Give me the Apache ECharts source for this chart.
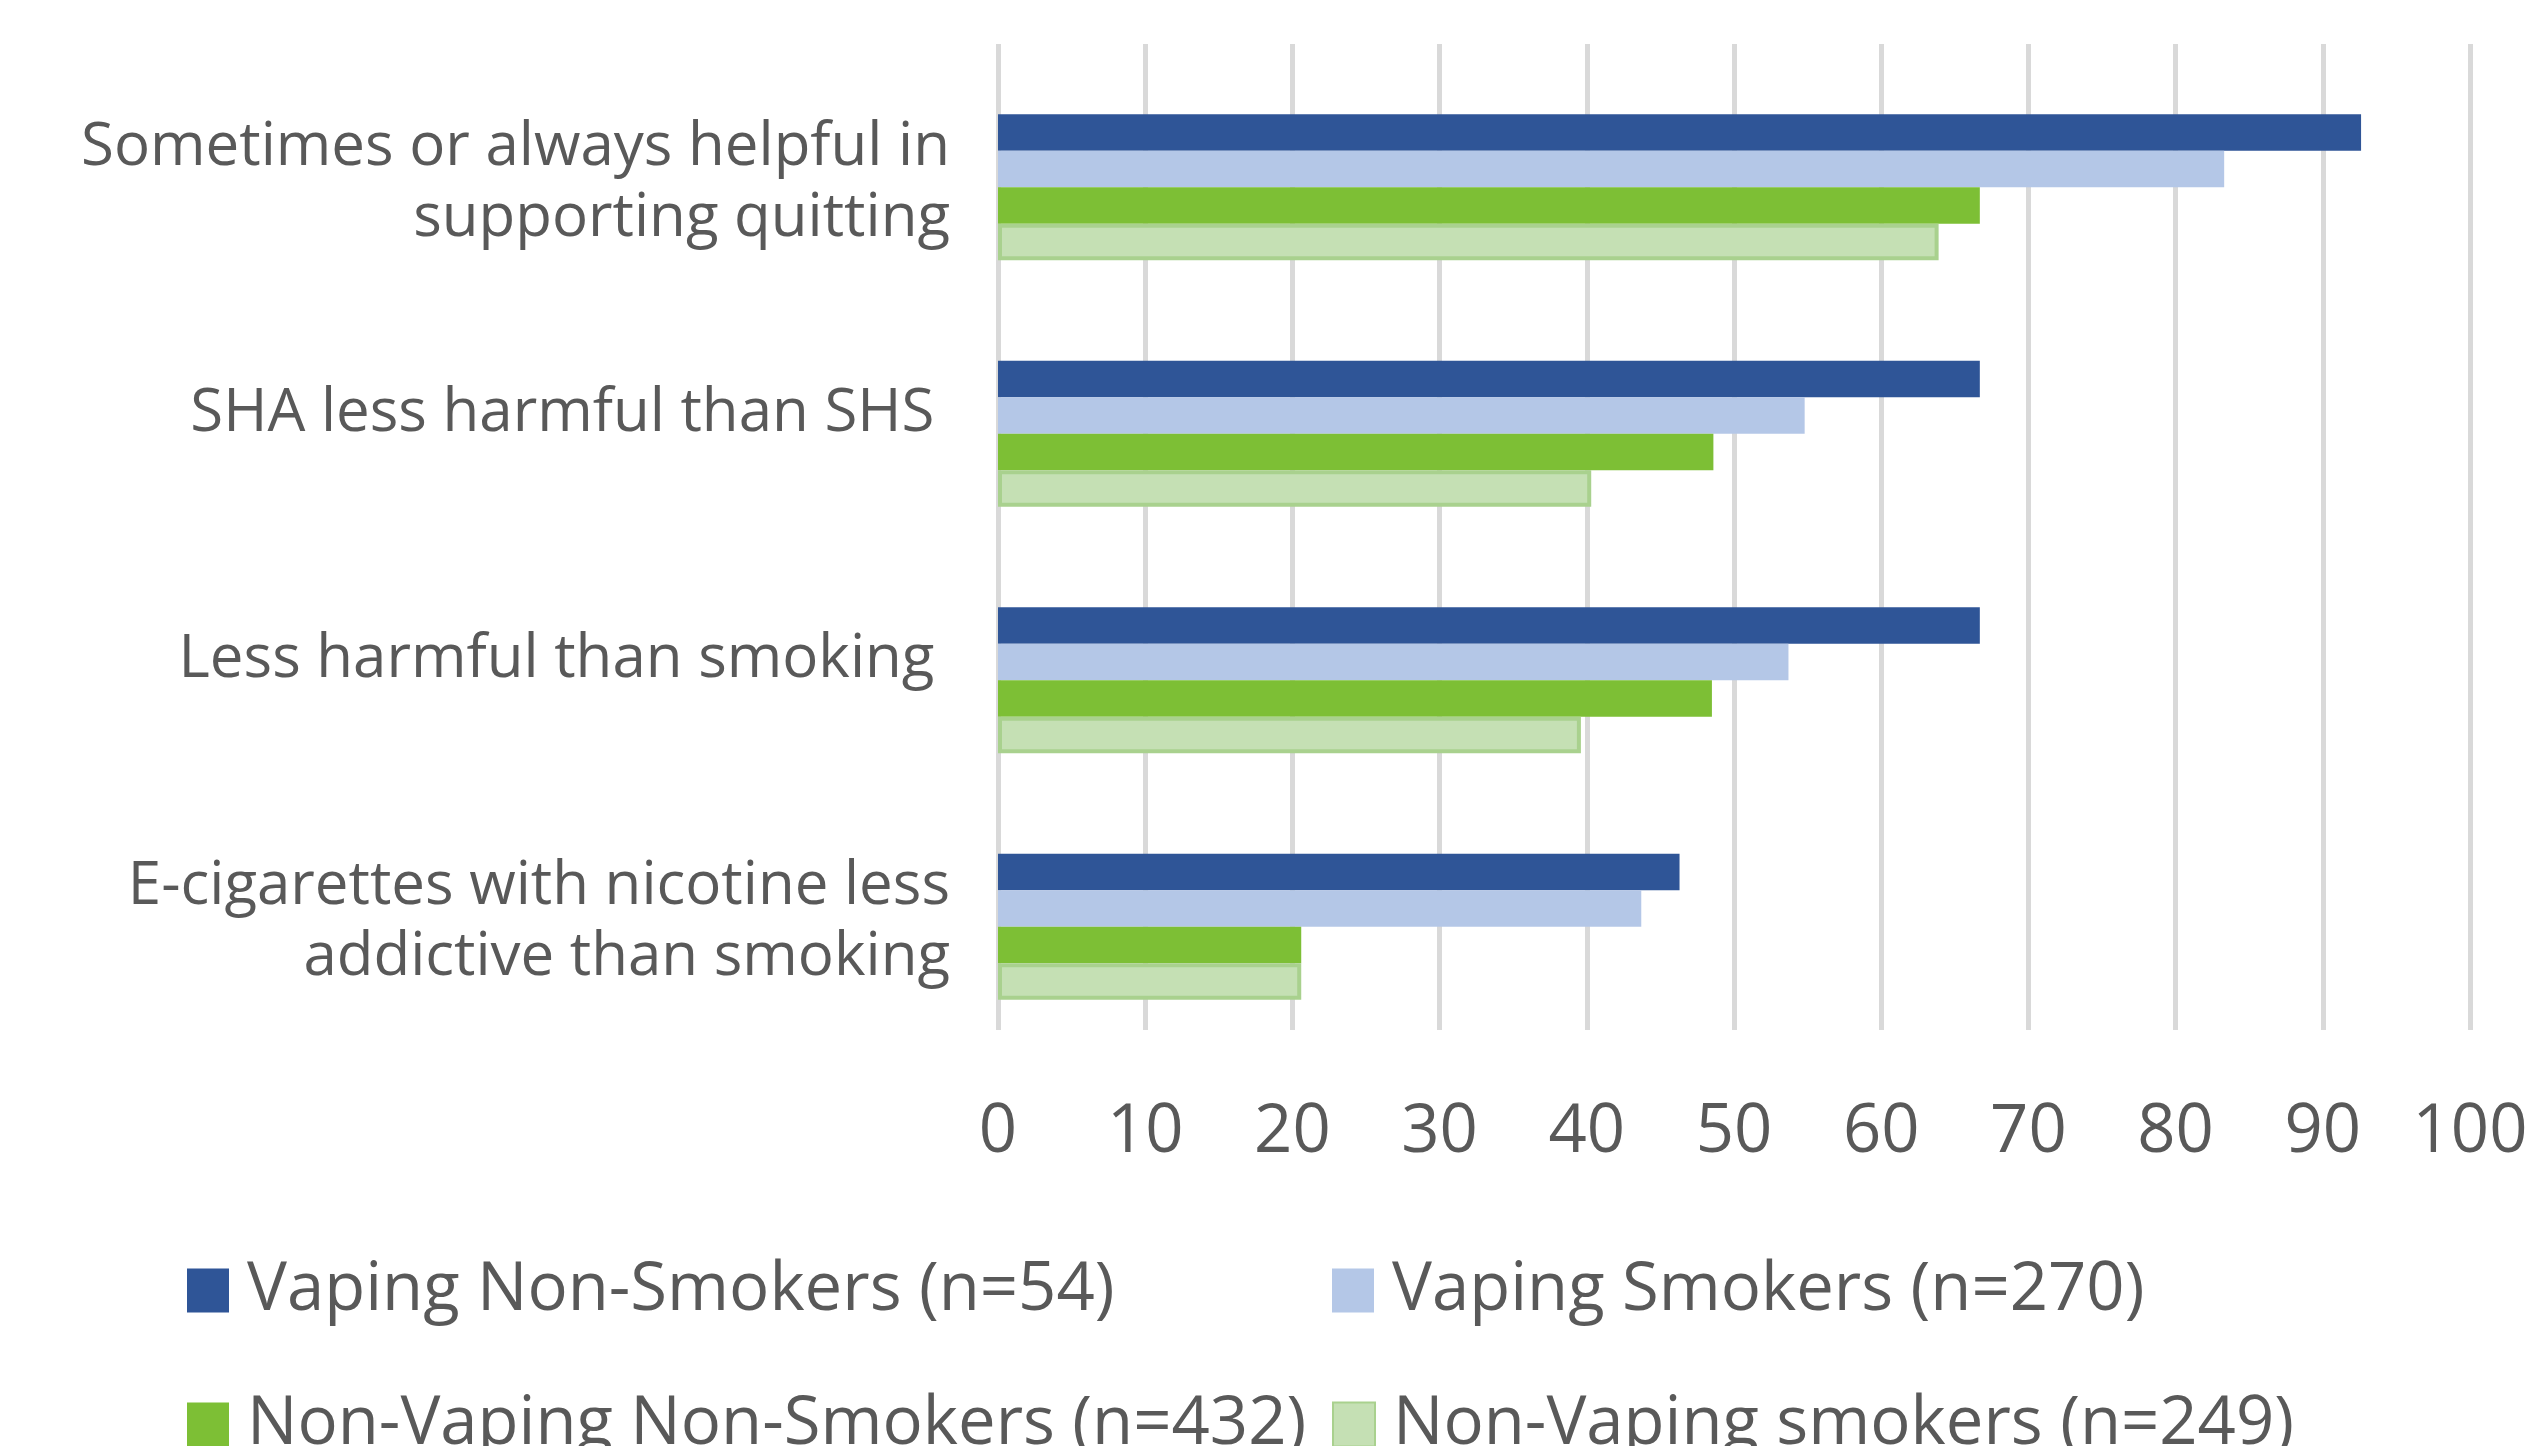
<!DOCTYPE html>
<html>
<head>
    <meta charset="utf-8">
    <title>E-cigarette perceptions</title>
    <script src="https://cdn.jsdelivr.net/npm/echarts@6/dist/echarts.min.js"></script>
    <style>
        html, body { margin: 0; padding: 0; background: #fff; }
    </style>
</head>
<body>
<div id="main" style="width: 2536px;height:1446px;"></div>

<script type="text/javascript">
    // categories, top to bottom
    var categories = [
        'Sometimes or always helpful in\nsupporting quitting',
        'SHA less harmful than SHS ',
        'Less harmful than smoking ',
        'E-cigarettes with nicotine less\naddictive than smoking'
    ];

    var seriesNames = [
        'Vaping Non-Smokers (n=54)',
        'Vaping Smokers (n=270)',
        'Non-Vaping Non-Smokers (n=432)',
        'Non-Vaping smokers (n=249)'
    ];

    // percentages
    var vapingNonSmokers = [92.6, 66.7, 66.7, 46.3];
    var vapingSmokers = [83.3, 54.8, 53.7, 43.7];
    var nonVapingNonSmokers = [66.7, 48.6, 48.5, 20.6];
    var nonVapingSmokers = [63.9, 40.3, 39.6, 20.6];

    var textColor = '#595959';
    var font = '"Open Sans", "Noto Sans", sans-serif';

    var myChart = echarts.init(document.getElementById('main'));

    // one legend per entry so the two columns line up like the original
    function legendItem(name, left, top) {
        return {
            data: [name],
            left: left,
            top: top,
            padding: 0,
            icon: 'rect',
            itemWidth: 42,
            itemHeight: 44,
            textStyle: {
                color: textColor,
                fontFamily: font,
                fontSize: 67,
                lineHeight: 44,
                padding: [0, 0, 0, 13]
            }
        };
    }

    var labelText = { color: textColor, fontFamily: font, fontSize: 60, lineHeight: 71 };

    var barStyle = {
        type: 'bar',
        xAxisIndex: 1,
        yAxisIndex: 1,
        barWidth: 36.5,
        barGap: '0%'
    };

    option = {
        backgroundColor: '#ffffff',
        animation: false,
        legend: [
            legendItem(seriesNames[0], 187, 1257),
            legendItem(seriesNames[1], 1332, 1257),
            legendItem(seriesNames[2], 187, 1391),
            legendItem(seriesNames[3], 1332, 1391)
        ],
        grid: [
            // plot area: gridlines and labels
            { left: 998, top: 44, width: 1472, height: 986 },
            // bars sit a little lower in each band
            { left: 998, top: 64, width: 1472, height: 986 }
        ],
        xAxis: [{
            gridIndex: 0,
            type: 'value',
            min: 0,
            max: 100,
            interval: 10,
            axisLine: { show: false },
            axisTick: { show: false },
            splitLine: { show: true, lineStyle: { color: '#D9D9D9', width: 5 } },
            axisLabel: {
                color: textColor,
                fontFamily: font,
                fontSize: 67,
                lineHeight: 67,
                margin: 69
            }
        }, {
            gridIndex: 1,
            type: 'value',
            min: 0,
            max: 100,
            show: false
        }],
        yAxis: [{
            gridIndex: 0,
            type: 'category',
            data: categories,
            inverse: true,
            axisLine: { show: false },
            axisTick: { show: false },
            splitLine: { show: false },
            axisLabel: {
                color: textColor,
                fontFamily: font,
                fontSize: 60,
                lineHeight: 71,
                margin: 48,
                align: 'right',
                // two-line labels sit a bit lower in the original:
                // a thin blank line on top pushes the block down
                formatter: function (value) {
                    var lines = value.split('\n');
                    if (lines.length === 1) {
                        return value;
                    }
                    return '{gap| }\n{txt|' + lines[0] + '}\n{txt|' + lines[1] + '}';
                },
                rich: {
                    gap: { fontSize: 1, lineHeight: 32 },
                    txt: labelText
                }
            }
        }, {
            gridIndex: 1,
            type: 'category',
            data: categories,
            inverse: true,
            show: false
        }],
        series: [
            Object.assign({}, barStyle, {
                name: seriesNames[0],
                data: vapingNonSmokers,
                itemStyle: { color: '#2F5597' }
            }),
            Object.assign({}, barStyle, {
                name: seriesNames[1],
                data: vapingSmokers,
                itemStyle: { color: '#B4C7E7' }
            }),
            Object.assign({}, barStyle, {
                name: seriesNames[2],
                data: nonVapingNonSmokers,
                itemStyle: { color: '#7DBF35' }
            }),
            Object.assign({}, barStyle, {
                name: seriesNames[3],
                data: nonVapingSmokers,
                itemStyle: { color: '#C5E0B4', borderColor: '#A9D18E', borderWidth: 4 }
            })
        ]
    };

    myChart.setOption(option);
</script>
</body>
</html>
